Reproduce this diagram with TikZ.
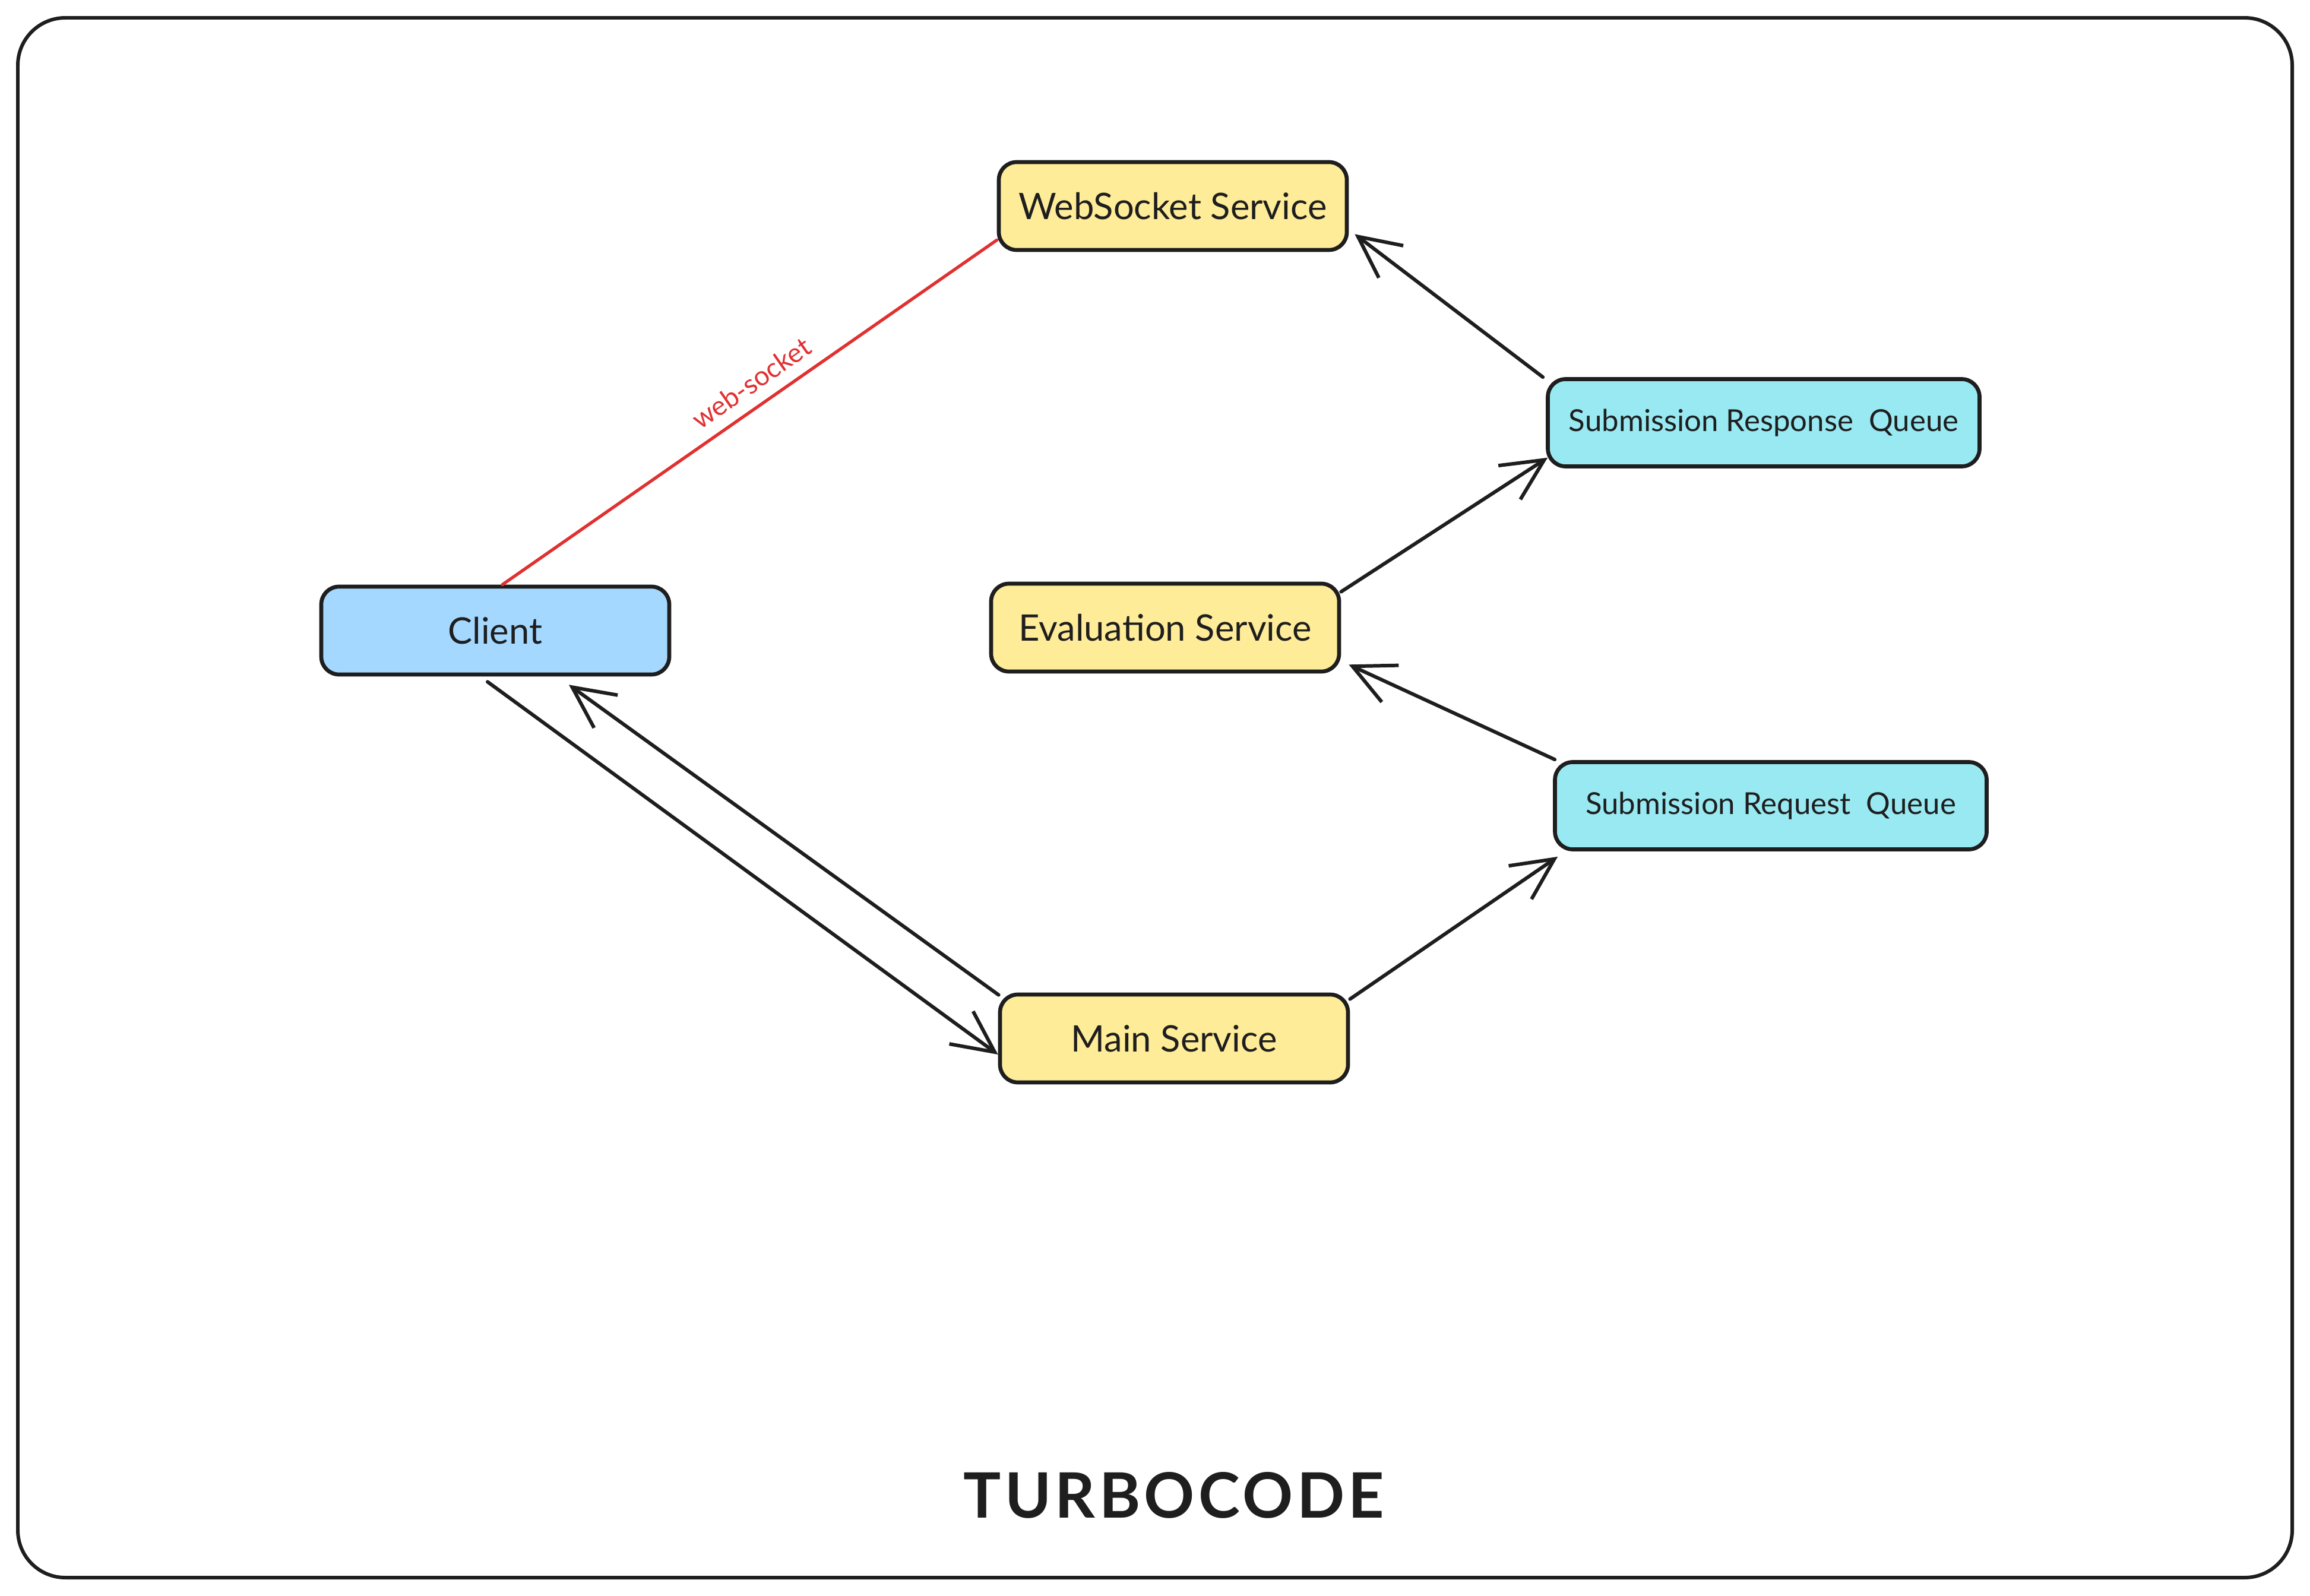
\documentclass[tikz,border=0pt]{standalone}
\usepackage{fontspec}
\setmainfont{Lato}
\usetikzlibrary{arrows.meta,calc}
\definecolor{ink}{HTML}{1E1E1E}
\definecolor{yel}{HTML}{FFEC99}
\definecolor{sky}{HTML}{A5D8FF}
\definecolor{cyn}{HTML}{99E9F2}
\definecolor{redl}{HTML}{E03131}
\tikzset{
  boxbase/.style={draw=ink, line width=1.9pt, rounded corners=0.3cm, align=center, text=ink, font=\fontsize{17.5}{20}\selectfont},
  ybox/.style={boxbase, fill=yel, minimum width=5.86cm, minimum height=1.48cm},
  cbox/.style={boxbase, fill=sky, minimum width=5.86cm, minimum height=1.48cm},
  qbox/.style={boxbase, fill=cyn, minimum width=7.27cm, minimum height=1.47cm, font=\fontsize{14.5}{17}\selectfont},
  conn/.style={draw=ink, line width=1.7pt, line cap=round, line join=round, -{Straight Barb[length=0.7cm,width=0.68cm]}},
  redline/.style={draw=redl, line width=1.5pt, line cap=round}
}
\begin{document}
\begin{tikzpicture}
\useasboundingbox (0,0) rectangle (38.9,-26.88);
\draw[ink, line width=1.7pt, rounded corners=0.8cm] (0.30,-0.30) rectangle (38.60,-26.57);

\node[ybox] (ws) at (19.75,-3.47) {WebSocket Service};
\node[cbox] (client) at (8.34,-10.62) {Client};
\node[ybox] (eval) at (19.62,-10.57) {Evaluation Service};
\node[qbox] (subresp) at (29.70,-7.12) {Submission Response\ \ Queue};
\node[qbox] (subreq) at (29.82,-13.57) {Submission Request\ \ Queue};
\node[ybox] (main) at (19.77,-17.49) {Main Service};
\node[text=ink, font=\fontsize{30}{34}\selectfont\bfseries\addfontfeature{LetterSpace=6}] (title) at (19.77,-25.18) {TURBOCODE};

% red web-socket line
\draw[redline] ([xshift=0.12cm]client.north) -- node[sloped, above, pos=0.53, text=redl, font=\fontsize{13}{15}\selectfont, yshift=0.08cm] {web-socket} ([yshift=0.2cm]ws.south west);

\draw[conn] ([xshift=-0.05cm]subresp.north west) -- ([shift={(0.1,0.3)}]ws.south east);
\draw[conn] ([yshift=-0.17cm]eval.north east) -- ([shift={(0.03,0.18)}]subresp.south west);
\draw[conn] ([shift={(0.03,0.01)}]subreq.north west) -- ([shift={(0.13,0.15)}]eval.south east);
\draw[conn] ([yshift=-0.11cm]main.north east) -- ([shift={(0.08,-0.09)}]subreq.south west);
\draw[conn] ([shift={(-0.13,-0.09)}]client.south) -- ([yshift=-0.27cm]main.west);
\draw[conn] ([shift={(0.01,-0.04)}]main.north west) -- ([shift={(1.24,-0.14)}]client.south);
\end{tikzpicture}
\end{document}
